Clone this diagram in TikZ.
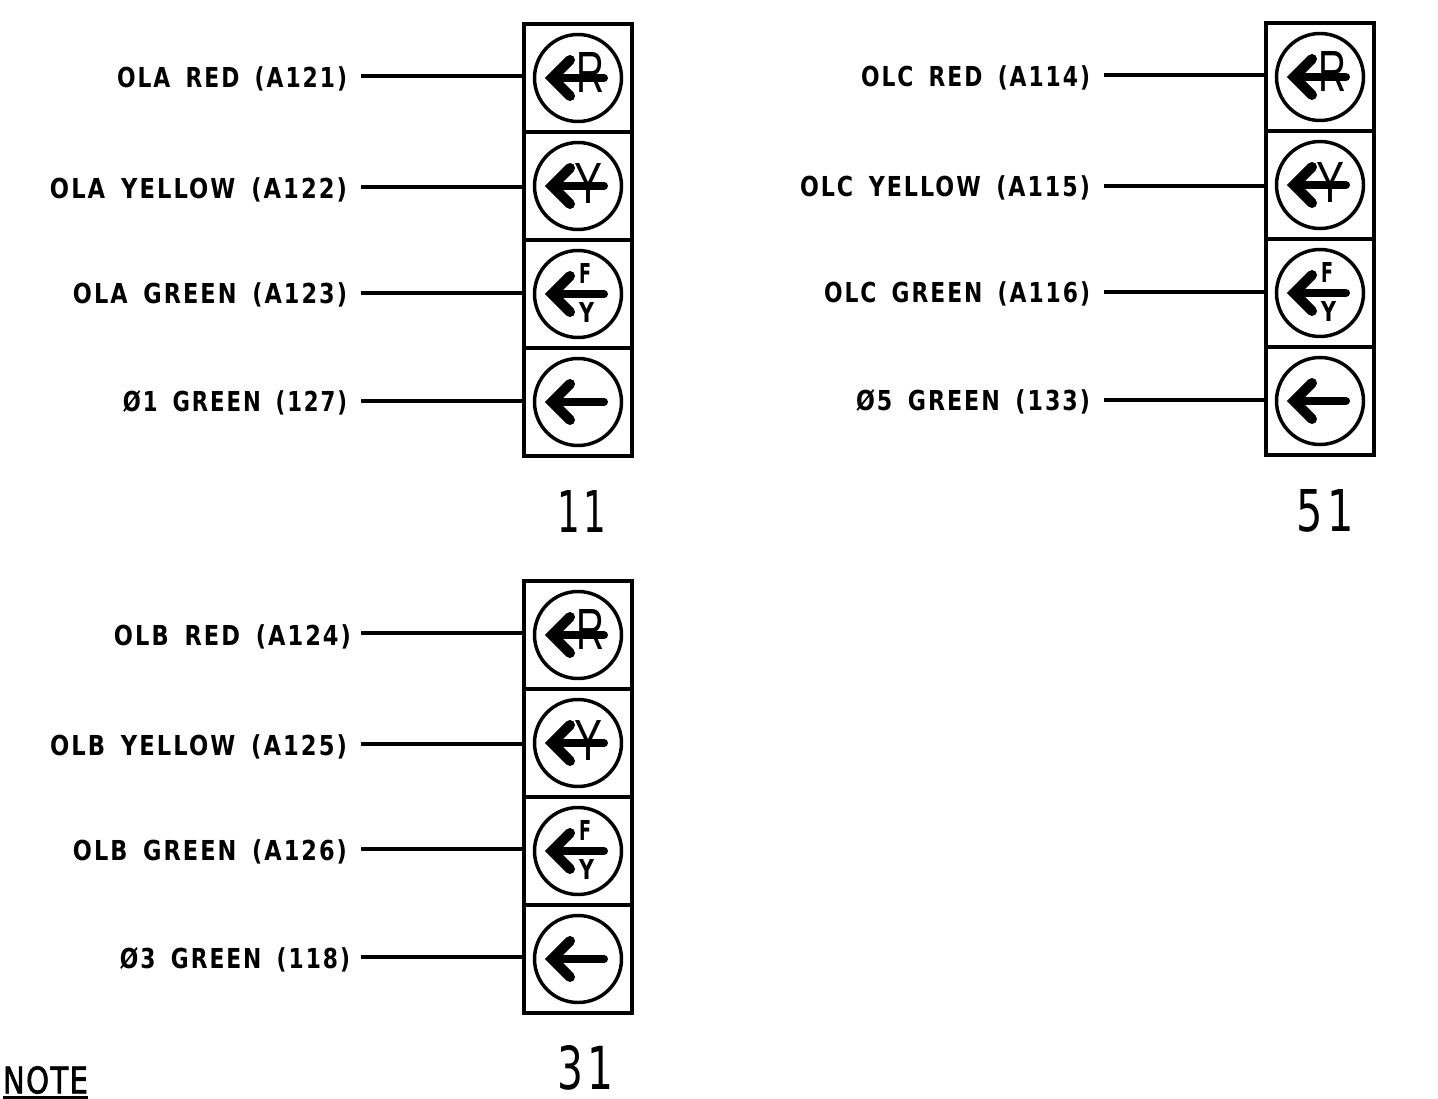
\documentclass[tikz,border=0pt]{standalone}
\usepackage{graphicx}
\usepackage{fontspec}
\setmainfont{DejaVu Sans}
\newfontfamily\thinfont{Liberation Sans}
\newfontfamily\labfont[LetterSpace=9,WordSpace=1.6]{DejaVu Sans}
\newfontfamily\notefont[LetterSpace=5,FakeBold=2.2]{DejaVu Sans}
\newfontfamily\numfont[LetterSpace=10]{DejaVu Sans}
\newfontfamily\tinyfont{DejaVu Sans}
\usetikzlibrary{calc}
\def\px{0.75pt}
\newcommand{\pxl}[1]{\dimexpr #1pt*3/4\relax}
\tikzset{
  x=0.75pt,y=-0.75pt,
  cellbox/.style={draw,line width=3pt,rectangle,minimum width=108*\px,minimum height=108*\px,inner sep=0pt,outer sep=0pt},
  lens/.style={draw,line width=2.6pt,circle,minimum size=87*\px,inner sep=0pt,outer sep=0pt},
  lead/.style={line width=2.6pt},
  shaft/.style={line width=6pt,line cap=round,line join=miter},
  wings/.style={line width=7.5pt,line cap=round,line join=miter},
  lab/.style={anchor=east,inner ysep=0pt,inner xsep=0pt,outer sep=0pt,text height=20*\px,text depth=0pt},
}
% label: name, x of line start, line y, gap, text-raise (px), width (px), text
\newcommand{\labnode}[7]{%
  \node[lab] (#1) at (#2,#3) {\raisebox{\pxl{#5}}{\resizebox{\pxl{#6}}{\height}{\fontsize{20.6}{24}\selectfont\labfont\bfseries #7}}\rule{\pxl{#4}}{0pt}};}
\newcommand{\arrowmark}[1]{%
  \draw[shaft] ($(#1)+(-24,0)$) -- ($(#1)+(26,0)$);
  \draw[wings] ($(#1)+(-8,-18)$) -- ($(#1)+(-26,0)$) -- ($(#1)+(-8,18)$);}
\newcommand{\bigletter}[4]{% node name, centre, offset, letter
  \node[inner sep=0pt,outer sep=0pt] (#1) at ($(#2)+#3$) {\resizebox{\pxl{28}}{\pxl{40}}{\thinfont #4}};}
\newcommand{\smallletter}[5]{% name, centre, offset, width, letter
  \node[inner sep=0pt,outer sep=0pt] (#1) at ($(#2)+#3$) {\resizebox{\pxl{#4}}{\pxl{20}}{\tinyfont\bfseries #5}};}
% head: prefix, cx, top y
\newcommand{\signalhead}[3]{%
  \foreach \i/\o in {1/0,2/108,3/216,4/324}{
    \node[cellbox] (#1c\i) at (#2,{#3+54+\o}) {};
    \node[lens] (#1l\i) at (#2,{#3+54+\o}) {};
    \arrowmark{#1l\i}
  }
  \bigletter{#1r}{#1l1}{(12.5,-6)}{R}
  \bigletter{#1y}{#1l2}{(10.5,-3)}{Y}
  \smallletter{#1f}{#1l3}{(7,-21)}{12}{F}
  \smallletter{#1g}{#1l3}{(8.5,18.5)}{15}{Y}
}
\begin{document}
\begin{tikzpicture}
\useasboundingbox[fill=white] (0,0) rectangle (1438,1099);
\signalhead{a}{578}{24}
\signalhead{c}{1320}{23}
\signalhead{b}{578}{581}
% group A
\labnode{a1}{361}{76}{14}{-2}{230}{OLA RED (A121)}
\labnode{a2}{361}{187}{14}{-1}{297}{OLA YELLOW (A122)}
\labnode{a3}{361}{293}{14}{0}{274}{OLA GREEN (A123)}
\labnode{a4}{361}{401}{14}{0}{224}{Ø1 GREEN (127)}
% group C
\labnode{c1}{1104}{75}{14}{-1}{229}{OLC RED (A114)}
\labnode{c2}{1104}{186}{14}{0}{290}{OLC YELLOW (A115)}
\labnode{c3}{1104}{292}{14}{0}{266}{OLC GREEN (A116)}
\labnode{c4}{1104}{400}{14}{0}{234}{Ø5 GREEN (133)}
% group B
\labnode{b1}{361}{633}{10}{-2}{237}{OLB RED (A124)}
\labnode{b2}{361}{744}{14}{-1}{297}{OLB YELLOW (A125)}
\labnode{b3}{361}{849}{14}{-1}{274}{OLB GREEN (A126)}
\labnode{b4}{361}{957}{11}{-1}{230}{Ø3 GREEN (118)}
\foreach \g in {a,b,c}{
  \foreach \i in {1,2,3,4}{
    \draw[lead] (\g\i.east) -- (\g\i.east -| \g c\i.west);
  }
}
% numbers
\node[inner sep=0pt,outer sep=0pt] (n11) at (582,511) {\resizebox{\pxl{49}}{\pxl{42}}{\fontsize{40}{44}\selectfont\numfont 11}};
\node[inner sep=0pt,outer sep=0pt] (n51) at (1325,511) {\resizebox{\pxl{57}}{\pxl{42}}{\fontsize{40}{44}\selectfont\numfont 51}};
\node[inner sep=0pt,outer sep=0pt] (n31) at (585,1068) {\resizebox{\pxl{56}}{\pxl{44}}{\fontsize{40}{44}\selectfont\numfont 31}};
% note
\node[inner sep=0pt,outer sep=0pt] (note) at (45.5,1080) {\resizebox{\pxl{85}}{\pxl{27}}{\notefont NOTE}};
\draw[line width=2.8pt] ($(note.south west)+(0,4)$) -- ($(note.south east)+(0,4)$);
\end{tikzpicture}
\end{document}
